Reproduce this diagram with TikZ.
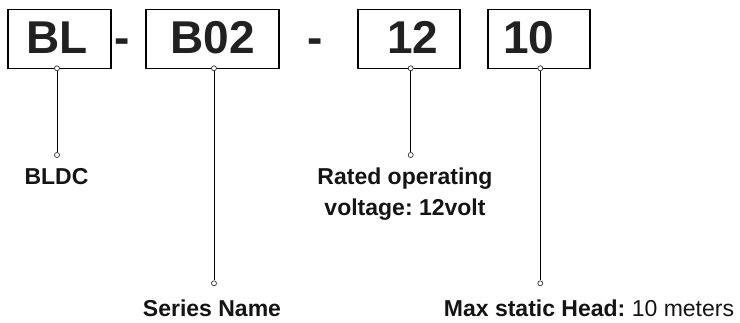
\documentclass[tikz,border=0pt]{standalone}
\usepackage{fontspec}
\setmainfont{Liberation Sans}
\frenchspacing
\begin{document}
\begin{tikzpicture}[x=1pt,y=-1pt,
  codebox/.style={draw=black, line width=1.1pt, rectangle, minimum height=59pt, inner sep=0pt},
  bigtxt/.style={anchor=base, inner sep=0pt, text=black!87, font=\fontsize{46}{46}\selectfont\bfseries},
  lbl/.style={anchor=base, inner sep=0pt, text=black!92, font=\fontsize{23}{31}\selectfont},
  pin/.style={circle, draw=black!80, fill=white, line width=0.7pt, inner sep=0pt, minimum size=5pt},
  lead/.style={draw=black, line width=1pt}]
\useasboundingbox (0,0) rectangle (740,323);
% boxes
\node[codebox, minimum width=103pt] (bl)  at (59.5,38.8) {};
\node[codebox, minimum width=133pt] (b02) at (212.5,38.8) {};
\node[codebox, minimum width=102pt] (v12) at (409,38.8) {};
\node[codebox, minimum width=102pt] (h10) at (539,38.8) {};
% box texts
\node[bigtxt] (tbl)  at (57,53.3) {BL};
\node[bigtxt] (tb02) at (212.5,53.3) {B02};
\node[bigtxt] (t12)  at (413,53.3) {12};
\node[bigtxt] (t10)  at (529,53.3) {10};
\node[bigtxt] (d1) at (122,53.3) {-};
\node[bigtxt] (d2) at (315.5,53.3) {-};
% pins
\node[pin] (p1a) at (57,68.3) {};
\node[pin] (p1b) at (57,155) {};
\node[pin] (p2a) at (214,68.3) {};
\node[pin] (p2b) at (214,283.3) {};
\node[pin] (p3a) at (410.7,68.3) {};
\node[pin] (p3b) at (410.7,155) {};
\node[pin] (p4a) at (540.3,68.3) {};
\node[pin] (p4b) at (540.3,283.3) {};
% leads
\draw[lead] (p1a) -- (p1b);
\draw[lead] (p2a) -- (p2b);
\draw[lead] (p3a) -- (p3b);
\draw[lead] (p4a) -- (p4b);
% labels
\node[lbl] (l1) at (56.5,185) {\bfseries BLDC};
\node[lbl] (l2) at (212,316.7) {\bfseries Series Name};
\node[lbl] (l3a) at (405,185) {\bfseries Rated operating};
\node[lbl] (l3b) at (405,216) {\bfseries voltage: 12volt};
\node[lbl] (l4) at (589,316.7) {\textbf{Max static Head:} 10 meters};
\end{tikzpicture}
\end{document}
